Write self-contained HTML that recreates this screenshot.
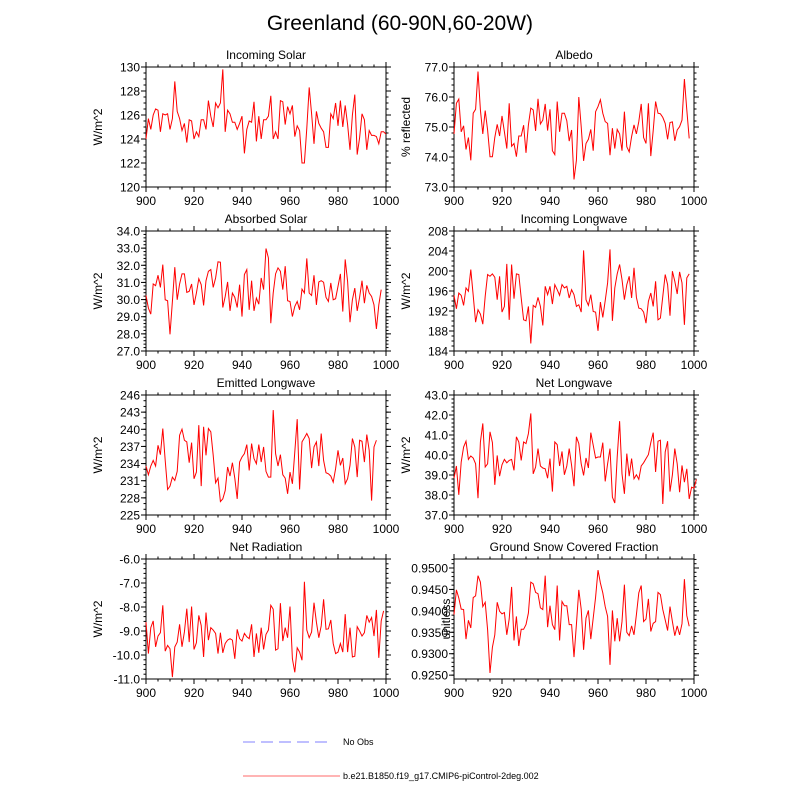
<!DOCTYPE html>
<html><head><meta charset="utf-8"><style>
body{margin:0;background:#fff;}
svg{display:block;font-family:"Liberation Sans",sans-serif;}
</style></head><body>
<svg id="chart" width="800" height="800" xmlns="http://www.w3.org/2000/svg">
<text x="400" y="30" font-size="21" text-anchor="middle">Greenland (60-90N,60-20W)</text>
<g>
<line x1="243" y1="742" x2="330" y2="742" stroke="#9999ff" stroke-width="1.2" stroke-dasharray="12,6"/>
<text x="343" y="745" font-size="9">No Obs</text>
<line x1="243" y1="776" x2="340" y2="776" stroke="#ff8888" stroke-width="1.2"/>
<text x="343" y="779" font-size="9">b.e21.B1850.f19_g17.CMIP6-piControl-2deg.002</text>
</g>
</svg>
<script>
const years0 = 900;
const incomingSolar = [124.0,125.7,124.8,126.0,126.5,126.4,124.6,126.1,126.0,126.1,124.8,125.7,128.8,126.3,125.7,124.7,125.3,123.7,125.6,125.5,124.0,124.6,124.2,125.6,125.6,124.8,127.2,125.9,125.0,127.0,126.6,127.0,129.8,124.6,126.4,126.1,125.4,125.4,124.8,125.3,125.9,122.8,124.8,125.5,125.4,127.1,123.8,125.9,124.0,125.6,125.6,125.9,127.6,124.0,124.6,124.0,127.2,127.1,125.2,126.7,126.1,126.8,124.2,125.1,124.7,122.0,122.0,124.9,128.3,126.1,123.6,126.3,125.3,124.9,124.6,123.3,123.3,126.1,125.7,127.0,125.1,127.2,125.0,126.8,125.2,123.1,126.0,127.7,122.7,124.1,126.1,125.6,123.1,124.7,124.3,124.3,124.2,123.6,124.6,124.6,124.4];
const albedo = [74.77,75.79,75.93,74.84,75.04,74.25,74.65,73.89,75.46,75.59,76.85,75.57,74.77,75.55,74.90,74.01,74.01,74.65,75.09,74.70,75.37,74.84,74.28,75.79,74.36,74.45,74.01,74.70,74.70,75.06,74.14,75.07,75.63,75.57,74.87,75.94,75.10,75.23,75.77,74.88,75.59,74.21,74.08,75.85,74.84,75.46,75.46,75.21,74.53,74.90,73.25,73.89,76.0,75.01,73.87,74.45,74.59,74.92,74.21,75.51,75.68,75.91,75.46,75.18,75.12,74.06,74.96,74.28,74.92,74.77,74.21,75.51,74.34,74.17,74.68,75.07,74.77,75.18,75.77,74.65,74.45,75.79,74.03,74.88,75.85,75.46,75.44,75.32,75.12,74.59,75.15,75.17,74.54,74.90,75.01,75.23,76.60,75.57,74.62];
const absorbedSolar = [30.24,29.50,29.15,30.91,30.81,31.42,30.71,32.04,29.99,29.93,27.97,29.89,31.89,29.99,30.91,31.50,31.50,30.42,30.48,30.91,29.69,30.38,31.22,30.87,29.66,31.10,31.65,31.75,30.71,31.26,32.20,32.18,29.54,30.18,31.03,29.34,30.38,30.13,29.54,30.87,29.01,31.46,31.75,29.40,31.10,29.34,30.09,29.73,31.26,30.58,32.98,32.43,28.62,30.38,31.50,31.85,31.65,30.58,31.95,29.93,29.89,29.01,29.60,29.89,29.40,30.61,30.38,32.40,30.38,30.24,31.42,29.69,31.03,31.10,31.01,30.13,29.89,30.97,29.99,30.05,30.77,31.50,29.30,32.34,31.06,28.68,29.99,30.67,29.34,30.13,31.10,29.79,30.83,30.38,30.18,29.69,28.29,29.69,30.58];
const incomingLW = [195.13,192.45,195.60,195.13,193.12,196.61,195.94,200.29,195.13,189.77,192.25,191.38,189.37,194.93,199.29,198.95,199.42,198.75,194.26,198.95,191.78,192.92,201.43,190.24,201.30,194.46,199.42,199.29,194.60,190.24,190.04,192.92,185.5,193.12,192.72,194.73,192.92,189.10,196.94,195.27,196.94,193.39,197.28,196.27,195.13,197.28,196.61,196.94,194.60,196.27,195.27,192.92,193.25,191.78,204.11,194.26,193.12,195.27,191.91,191.78,188.03,193.79,190.71,194.06,197.61,204.31,190.04,196.61,199.42,201.30,198.28,194.26,197.28,198.95,194.60,200.63,194.73,192.58,192.45,191.78,189.57,193.93,195.60,192.92,197.95,190.24,190.57,194.93,199.29,197.28,191.05,199.96,197.95,195.40,199.82,197.61,189.23,198.62,199.42];
const emittedLW = [233.57,232.04,233.57,234.56,233.57,237.20,235.56,240.13,234.56,229.46,230.05,231.63,231.04,232.63,238.96,240.02,238.08,237.79,234.15,237.67,231.34,232.51,240.72,230.05,240.43,235.44,240.13,239.55,235.44,230.63,231.45,227.35,227.82,229.28,233.39,231.81,234.15,231.45,227.82,234.27,235.15,235.74,237.32,232.80,237.50,234.86,233.98,237.32,234.27,236.91,232.63,231.63,231.63,243.36,235.74,233.57,235.56,232.04,231.45,228.70,232.51,230.46,236.03,241.78,229.46,237.79,238.49,239.26,238.38,233.21,236.91,237.79,233.57,239.26,234.56,232.39,232.22,231.81,230.75,233.10,236.32,233.68,234.97,230.46,231.34,233.68,238.38,236.91,231.63,238.08,237.91,234.27,239.08,236.32,227.52,236.91,238.08];
const netLW = [38.84,39.45,38.01,39.65,40.40,40.69,39.78,39.95,39.85,39.56,37.84,40.65,41.58,39.40,39.56,41.16,40.62,38.51,39.98,38.94,39.51,39.78,39.61,39.73,39.78,39.23,40.91,40.65,39.73,40.65,40.57,41.07,42.08,39.06,39.40,40.32,39.45,39.35,39.31,38.84,39.82,38.17,40.65,40.52,39.45,40.18,39.01,39.45,40.32,39.48,38.44,40.91,40.57,39.56,38.98,39.85,39.35,41.12,40.49,39.85,39.90,39.90,40.62,38.68,39.56,40.32,37.89,37.60,39.90,41.69,39.06,38.06,40.07,38.94,39.82,38.81,39.01,38.78,39.45,39.61,39.82,40.02,40.62,41.12,39.15,40.69,40.74,37.55,40.15,40.69,38.17,39.01,40.32,39.56,38.14,39.48,38.64,39.31,37.80,38.39,38.34,38.78];
const netRadiation = [-8.63,-9.94,-8.86,-8.58,-9.66,-9.21,-9.07,-7.93,-9.84,-9.60,-9.74,-10.92,-9.66,-9.46,-8.72,-9.66,-9.04,-8.07,-9.46,-7.98,-9.77,-9.49,-8.35,-8.77,-10.08,-8.23,-9.38,-8.86,-8.96,-9.10,-9.94,-9.07,-9.91,-9.52,-9.38,-9.32,-9.38,-10.16,-8.93,-9.32,-9.42,-9.10,-9.24,-9.32,-8.72,-10.08,-9.10,-9.91,-8.86,-9.77,-9.14,-8.96,-7.93,-8.09,-9.80,-9.74,-7.84,-9.42,-8.86,-9.28,-7.98,-10.16,-10.72,-9.70,-9.88,-10.22,-6.95,-8.96,-9.28,-9.04,-7.82,-8.63,-9.28,-8.79,-7.68,-8.93,-8.91,-8.54,-9.52,-9.94,-9.88,-9.52,-9.88,-8.30,-9.88,-8.86,-10.08,-10.05,-8.82,-9.00,-9.21,-9.07,-8.35,-8.63,-8.44,-9.21,-8.12,-10.12,-8.58,-8.16];
const snowFraction = [0.9391,0.9449,0.9430,0.9404,0.9403,0.9334,0.9378,0.9360,0.9431,0.9435,0.9482,0.9467,0.9410,0.9420,0.9356,0.9255,0.9315,0.9344,0.9420,0.9399,0.9393,0.9396,0.9344,0.9381,0.9456,0.9331,0.9387,0.9318,0.9357,0.9357,0.9368,0.9395,0.9467,0.9463,0.9443,0.9440,0.9407,0.9403,0.9482,0.9362,0.9412,0.9368,0.9356,0.9459,0.9331,0.9422,0.9412,0.9412,0.9368,0.9368,0.9292,0.9368,0.9449,0.9404,0.9309,0.9383,0.9401,0.9334,0.9383,0.9432,0.9495,0.9465,0.9442,0.9410,0.9387,0.9274,0.9401,0.9329,0.9383,0.9329,0.9375,0.9461,0.9350,0.9342,0.9365,0.9344,0.9391,0.9442,0.9459,0.9375,0.9381,0.9428,0.9352,0.9371,0.9375,0.9443,0.9438,0.9403,0.9379,0.9354,0.9410,0.9375,0.9342,0.9365,0.9344,0.9370,0.9474,0.9389,0.9364];
const xTicks = [900,920,940,960,980,1000];

const NS="http://www.w3.org/2000/svg";
const svg=document.getElementById('chart');
function mk(tag,attrs,parent){const e=document.createElementNS(NS,tag);for(const k in attrs)e.setAttribute(k,attrs[k]);(parent||svg).appendChild(e);return e;}

const panels=[
 {name:'incoming-solar',title:'Incoming Solar',data:incomingSolar,x:146,y:67,min:120,max:130,major:2,minor:0.5,dec:0,ylab:'W/m^2'},
 {name:'albedo',title:'Albedo',data:albedo,x:454,y:67,min:73,max:77,major:1,minor:0.2,dec:1,ylab:'% reflected'},
 {name:'absorbed-solar',title:'Absorbed Solar',data:absorbedSolar,x:146,y:231,min:27,max:34,major:1,minor:0.2,dec:1,ylab:'W/m^2'},
 {name:'incoming-longwave',title:'Incoming Longwave',data:incomingLW,x:454,y:231,min:184,max:208,major:4,minor:1,dec:0,ylab:'W/m^2'},
 {name:'emitted-longwave',title:'Emitted Longwave',data:emittedLW,x:146,y:395,min:225,max:246,major:3,minor:1,dec:0,ylab:'W/m^2'},
 {name:'net-longwave',title:'Net Longwave',data:netLW,x:454,y:395,min:37,max:43,major:1,minor:0.2,dec:1,ylab:'W/m^2'},
 {name:'net-radiation',title:'Net Radiation',data:netRadiation,x:146,y:559,min:-11,max:-6,major:1,minor:0.2,dec:1,ylab:'W/m^2'},
 {name:'ground-snow-covered-fraction',title:'Ground Snow Covered Fraction',data:snowFraction,x:454,y:559,min:0.9241,max:0.9521,major:0.005,minor:0.001,dec:4,ylab:'unitless',tstart:0.925}
];
const W=240,H=120;
panels.forEach(p=>{
  const g=mk('g',{});
  
  
  const xs=v=>p.x+(v-900)/100*W;
  const ys=v=>p.y+H-(v-p.min)/(p.max-p.min)*H;
  const t=mk('text',{x:p.x+W/2,y:p.y-8,'font-size':12,'text-anchor':'middle'},g);t.textContent=p.title;
  
  
  mk('rect',{x:p.x,y:p.y,width:W,height:H,fill:'none',stroke:'#000','stroke-width':1},g);
  // x ticks
  xTicks.forEach(v=>{
    const x=xs(v);
    mk('line',{x1:x,y1:p.y+H,x2:x,y2:p.y+H+5,stroke:'#000'},g);
    mk('line',{x1:x,y1:p.y,x2:x,y2:p.y-5,stroke:'#000'},g);
    const l=mk('text',{x:x,y:p.y+H+18,'font-size':12,'text-anchor':'middle'},g);l.textContent=v;
    
    
  });
  for(let v=905;v<1000;v+=5){if(v%20===0)continue;const x=xs(v);
    mk('line',{x1:x,y1:p.y+H,x2:x,y2:p.y+H+2.5,stroke:'#000'},g);
    mk('line',{x1:x,y1:p.y,x2:x,y2:p.y-2.5,stroke:'#000'},g);}
  // y minor
  const eps=1e-9;
  const mstart=Math.ceil((p.min-eps)/p.minor)*p.minor;
  for(let v=mstart;v<=p.max+eps;v+=p.minor){const y=ys(v);
    mk('line',{x1:p.x,y1:y,x2:p.x-2.5,y2:y,stroke:'#000'},g);
    mk('line',{x1:p.x+W,y1:y,x2:p.x+W+2.5,y2:y,stroke:'#000'},g);}
  const tstart=p.tstart!==undefined?p.tstart:p.min;
  for(let v=tstart;v<=p.max+eps;v+=p.major){const y=ys(v);
    mk('line',{x1:p.x,y1:y,x2:p.x-5,y2:y,stroke:'#000'},g);
    mk('line',{x1:p.x+W,y1:y,x2:p.x+W+5,y2:y,stroke:'#000'},g);
    const l=mk('text',{x:p.x-6,y:y+4.5,'font-size':12,'text-anchor':'end'},g);l.textContent=v.toFixed(p.dec);
    
    
  }
  const yl=mk('text',{x:0,y:0,'font-size':12,'text-anchor':'middle',transform:`translate(${p.x-(p.dec===4?4:44)},${p.y+H/2}) rotate(-90)`},g);
  yl.textContent=p.ylab;
  
  
  const pts=p.data.map((v,i)=>xs(years0+i).toFixed(2)+','+ys(v).toFixed(2)).join(' ');
  const line=mk('polyline',{points:pts,fill:'none',stroke:'#ff0000','stroke-width':1},g);
  
  
});
</script>
</body></html>
